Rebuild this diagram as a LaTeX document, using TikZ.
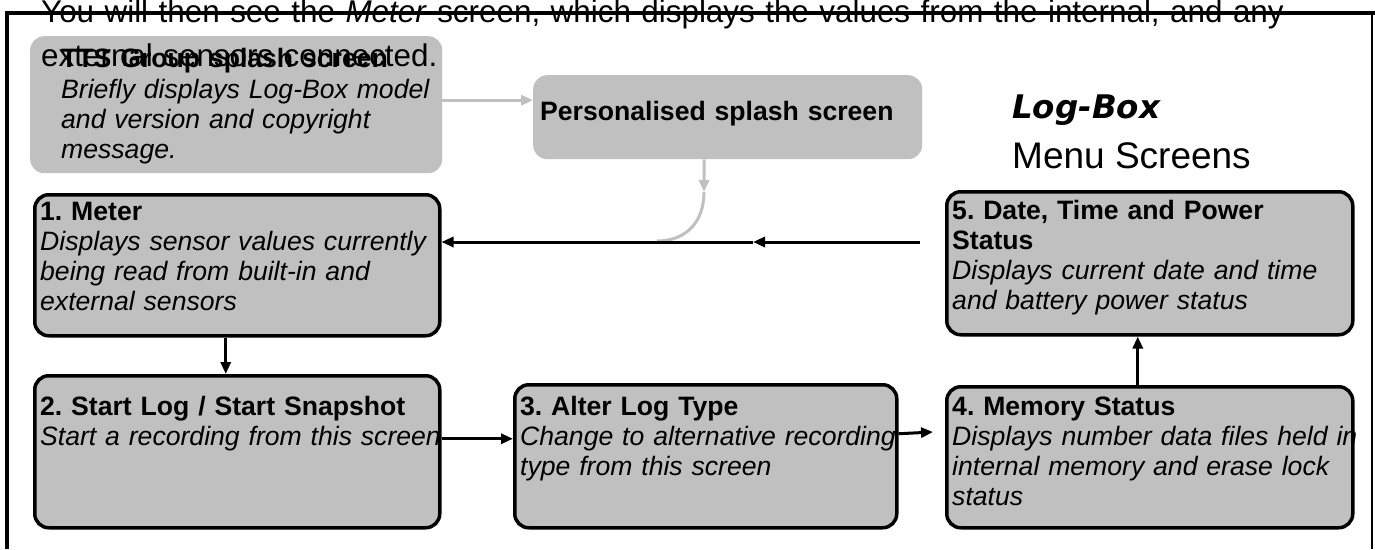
\documentclass[tikz,border=0pt]{standalone}
\usepackage{fontspec}
\setmainfont{Liberation Sans}
\newfontfamily\logofamily{DejaVu Sans}
\usetikzlibrary{arrows.meta}
\frenchspacing

\definecolor{boxgray}{RGB}{192,192,192}

\newcommand{\boxfont}{\fontsize{26.6}{30}\selectfont}
\newcommand{\introfont}{\fontsize{31.4}{44}\selectfont}

\tikzset{
    screen/.style={draw=black, line width=3.5pt, fill=boxgray, rounded corners=14pt, anchor=north west, inner sep=0pt},
    splash/.style={fill=boxgray, rounded corners=14pt, anchor=north west, inner sep=0pt},
    txt/.style={inner sep=0pt, anchor=base west, align=left, text width=#1, font=\boxfont},
    txt/.default=440pt,
    arr/.style={line width=3pt, -{Triangle[length=12pt,width=10pt]}},
    grayarr/.style={draw=boxgray, line width=3pt, -{Triangle[length=12pt,width=10pt]}},
    grayline/.style={draw=boxgray, line width=3pt}
}

\begin{document}
\begin{tikzpicture}[x=1pt, y=-1pt]
    \useasboundingbox (0,0) rectangle (1375,549);

    \node[splash, minimum width=412, minimum height=137] (tts) at (30,36) {};
    \node[splash, minimum width=389, minimum height=84] (ps) at (533,75) {};
    \node[screen, minimum width=405, minimum height=141] (b1) at (33,193) {};
    \node[screen, minimum width=405, minimum height=152] (b2) at (33,374) {};
    \node[screen, minimum width=382, minimum height=143] (b3) at (513,383) {};
    \node[screen, minimum width=406, minimum height=141] (b4) at (945,385) {};
    \node[screen, minimum width=406, minimum height=143] (b5) at (945,190) {};

    \node[txt] (ttstxt) at (61,67) {\textbf{TTS Group splash screen}\\[1pt]\itshape Briefly displays Log-Box model\\and version and copyright\\message.};
    \node[txt] (pstxt) at (540,120) {\textbf{Personalised splash screen}};
    \node[txt] (t1) at (40,220) {\textbf{1. Meter}\\\itshape Displays sensor values currently\\being read from built-in and\\external sensors};
    \node[txt] (t2) at (40,415) {\textbf{2. Start Log / Start Snapshot}\\\itshape Start a recording from this screen};
    \node[txt] (t3) at (520,415) {\textbf{3. Alter Log Type}\\\itshape Change to alternative recording\\type from this screen};
    \node[txt] (t4) at (952,415) {\textbf{4. Memory Status}\\\itshape Displays number data files held in\\internal memory and erase lock\\status};
    \node[txt] (t5) at (952,219) {\textbf{5. Date, Time and Power}\\\textbf{Status}\\\itshape Displays current date and time\\and battery power status};

    \node[inner sep=0pt, anchor=base west, align=left, text width=1320pt, font=\introfont] (intro) at (41,22) {You will then see the \textit{Meter} screen, which displays the values from the internal, and any\\external sensors connected.};
    \node[inner sep=0pt, anchor=base west, font=\logofamily\bfseries\itshape\fontsize{32.5}{36}\selectfont] (logo) at (1012,118) {Log-Box};
    \node[inner sep=0pt, anchor=base west, font=\fontsize{37}{40}\selectfont] (menu) at (1012,168) {Menu Screens};

    \draw[grayarr] ([yshift=4.5pt]tts.east) coordinate (g1) -- (g1 -| ps.west);
    \draw[grayarr] ([xshift=-23.5pt]ps.south) coordinate (g2) -- (704,192) coordinate (g3);
    \coordinate (join) at (657,241);
    \draw[grayline] (g3) .. controls (704,222) and (686,241) .. (join);

    \coordinate (r5) at (920,242);
    \coordinate (mid) at (753,242);
    \draw[arr] (r5) -- (mid);
    \draw[arr] (mid) -- (b1.east |- mid);
    \draw[arr] ([xshift=-11.5pt]b1.south) coordinate (d1) -- (d1 |- b2.north);
    \draw[arr] ([yshift=13pt]b2.east) coordinate (d2) -- (d2 -| b3.west);
    \coordinate (d3e) at (933,432);
    \draw[arr] ([yshift=22.5pt]b3.east) coordinate (d3) -- (d3e);
    \draw[arr] ([xshift=-12pt]b4.north) coordinate (d4) -- (d4 |- b5.south);

    \draw[line width=3.5pt] (1375,13) -- (7,13) -- (7,549);
    \draw[line width=1.5pt] (1372,13) -- (1372,549);
\end{tikzpicture}
\end{document}
